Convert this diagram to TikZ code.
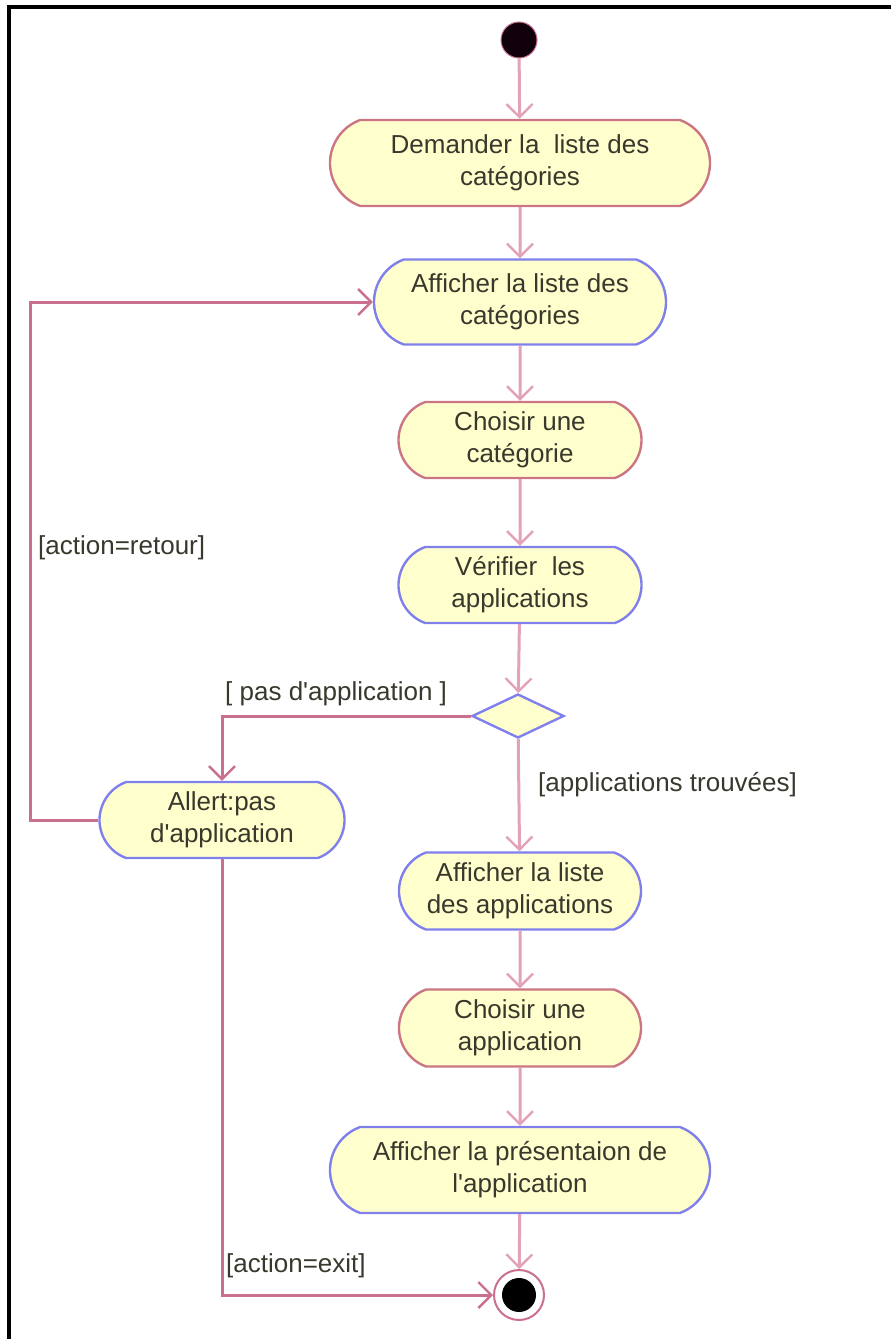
\documentclass[tikz,border=0pt]{standalone}
\usepackage{fontspec}
\setmainfont{Liberation Sans}
\usetikzlibrary{shapes.misc,shapes.geometric,arrows.meta}
\definecolor{actfill}{RGB}{255,255,206}
\definecolor{actred}{RGB}{204,118,132}
\definecolor{actblue}{RGB}{128,128,236}
\definecolor{flowpink}{RGB}{226,162,186}
\definecolor{looprose}{RGB}{202,112,142}
\definecolor{txt}{RGB}{56,56,44}
\newcommand{\apos}{\textquotesingle}
\tikzset{
  activity/.style={rounded rectangle, rounded rectangle arc length=140,
    fill=actfill, line width=2.4pt, align=center, inner sep=0pt,
    text=txt, font=\fontsize{26}{32}\selectfont},
  redact/.style={activity, draw=actred},
  blueact/.style={activity, draw=actblue},
  flow/.style={draw=flowpink, line width=3pt,
    -{Straight Barb[length=13pt,width=26pt,line width=2.4pt]}},
  loop/.style={draw=looprose, line width=3pt,
    -{Straight Barb[length=13pt,width=26pt,line width=2.4pt]}},
  guard/.style={anchor=west, text=txt, inner sep=0pt,
    font=\fontsize{26}{32}\selectfont},
}
\begin{document}
\begin{tikzpicture}[x=1pt,y=-1pt]
\useasboundingbox (0,0) rectangle (891,1339);
% frame (top and left edges)
\draw[line width=4pt, black] (9,1339) -- (9,7) -- (891,7);

% initial and final states
\node[circle, fill={rgb,255:red,16;green,0;blue,12}, draw=looprose, line width=1pt,
  minimum size=36pt, inner sep=0pt] (start) at (519,40) {};
\node[circle, draw=looprose, line width=2pt, fill=white,
  minimum size=50pt, inner sep=0pt] (fin) at (519,1295) {};
\fill[black] (fin.center) circle (17);

% activities
\node[redact,  minimum width=380pt, minimum height=86pt] (demander) at (520,163)
  {Demander la\ \ liste des\\catégories};
\node[blueact, minimum width=292pt, minimum height=85pt] (affcat) at (520,302)
  {Afficher la liste des\\catégories};
\node[redact,  minimum width=243pt, minimum height=76pt] (choixcat) at (520,440)
  {Choisir une\\catégorie};
\node[blueact, minimum width=243pt, minimum height=76pt] (verif) at (520,585)
  {Vérifier\ \ les\\applications};
\node[diamond, fill=actfill, draw=actblue, line width=2.4pt, inner sep=0pt,
  minimum width=92pt, minimum height=44pt] (dec) at (518,716) {};
\node[blueact, minimum width=245pt, minimum height=76pt] (alert) at (222,820)
  {Allert:pas\\d\apos application};
\node[blueact, minimum width=242pt, minimum height=77pt] (affapp) at (520,891)
  {Afficher la liste\\des applications};
\node[redact,  minimum width=242pt, minimum height=77pt] (choixapp) at (520,1028)
  {Choisir une\\application};
\node[blueact, minimum width=380pt, minimum height=86pt] (present) at (520,1170)
  {Afficher la présentaion de\\l\apos application};

% main flow
\draw[flow] (start) -- (demander);
\draw[flow] (demander) -- (affcat);
\draw[flow] (affcat) -- (choixcat);
\draw[flow] (choixcat) -- (verif);
\draw[flow] (verif) -- (dec);
\draw[flow] (dec) -- (affapp);
\draw[flow] (affapp) -- (choixapp);
\draw[flow] (choixapp) -- (present);
\draw[flow] (present) -- (fin);

% branches
\coordinate (backx) at (30,0);
\draw[loop] (dec.west) -| (alert.north);
\draw[loop] (alert.west) -- (alert.west -| backx) |- (affcat.west);
\draw[loop] (alert.south) |- (fin.west);

% guards
\node[guard] (gretour) at (38,548) {[action=retour]};
\node[guard] (gpas) at (225,694) {[ pas d\apos application ]};
\node[guard] (gtrouve) at (538,785) {[applications trouvées]};
\node[guard] (gexit) at (226,1266) {[action=exit]};
\end{tikzpicture}
\end{document}
